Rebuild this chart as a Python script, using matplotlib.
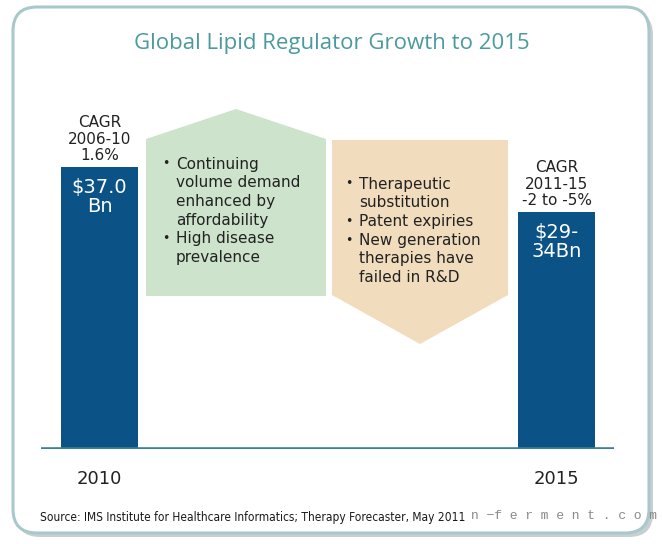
import matplotlib
matplotlib.use("Agg")
import matplotlib.pyplot as plt
from matplotlib.patches import Polygon, FancyBboxPatch

# ---------------- data ----------------
years = ["2010", "2015"]
market_bn = [37.0, 31.1]          # bar heights (2015 shown as range $29-34Bn)
bar_labels = ["$37.0\nBn", "$29-\n34Bn"]
cagr_labels = ["CAGR\n2006-10\n1.6%", "CAGR\n2011-15\n-2 to -5%"]
drivers = ["Continuing\nvolume demand\nenhanced by\naffordability", "High disease\nprevalence"]
limiters = ["Therapeutic\nsubstitution", "Patent expiries", "New generation\ntherapies have\nfailed in R&D"]
title = "Global Lipid Regulator Growth to 2015"
source = "Source: IMS Institute for Healthcare Informatics; Therapy Forecaster, May 2011"
watermark = "n \u2212f e r m e n t . c o m"

W, H = 663, 544
BLUE = "#0b5287"
GREEN = "#cde3cc"
TAN = "#f1dcbd"
TEAL = "#4a9a9e"
BORDER = "#a9c8cc"
TXT = "#222222"

fig = plt.figure(figsize=(W / 100, H / 100), dpi=100)
fig.patch.set_facecolor("white")

# decoration axes in pixel coordinates
deco = fig.add_axes([0, 0, 1, 1])
deco.set_xlim(0, W)
deco.set_ylim(H, 0)
deco.axis("off")

# shadow + frame
deco.add_patch(FancyBboxPatch((16, 11), 637, 526, boxstyle="round,pad=0,rounding_size=24",
                              facecolor="#c9cfd0", edgecolor="none", zorder=0))
deco.add_patch(FancyBboxPatch((13, 7), 636, 526, boxstyle="round,pad=0,rounding_size=24",
                              facecolor="white", edgecolor=BORDER, linewidth=2.2, zorder=1))

# arrows
deco.add_patch(Polygon([(146, 296), (146, 139), (236, 109), (326, 139), (326, 296)],
                       closed=True, facecolor=GREEN, edgecolor="none", zorder=2))
deco.add_patch(Polygon([(332, 140), (508, 140), (508, 295), (420, 344), (332, 295)],
                       closed=True, facecolor=TAN, edgecolor="none", zorder=2))

deco.text(332, 43, title, ha="center", va="center", fontsize=16, color=TEAL,
          family="Open Sans", zorder=5)

def bullets(x_b, x_t, y0, items, step=18.7):
    y = y0
    for it in items:
        deco.text(x_b, y, "\u2022", ha="left", va="center", fontsize=9, color=TXT,
                  family="DejaVu Sans", zorder=5)
        for ln in it.split("\n"):
            deco.text(x_t, y, ln, ha="left", va="center", fontsize=11, color=TXT,
                      family="DejaVu Sans", zorder=5)
            y += step

bullets(162, 176, 164, drivers)
bullets(345, 359, 184, limiters)

deco.text(40, 517, source, ha="left", va="center", fontsize=8.6, color="#1a1a1a",
          family="DejaVu Sans", fontstretch="condensed", zorder=5)
deco.text(471, 516, watermark, ha="left", va="center", fontsize=9.4, color="#8a8a8a",
          family="Liberation Mono", zorder=6)

# bar axes (data units)
x_left, x_right, base_y, top_y = 41, 614, 449, 106
ax = fig.add_axes([x_left / W, (H - base_y) / H, (x_right - x_left) / W, (base_y - top_y) / H])
ax.patch.set_alpha(0)
for s in ax.spines.values():
    s.set_visible(False)
ax.set_xticks([])
ax.set_yticks([])
span = 457.0
ax.set_xlim(-58.5 / span, 1 + (x_right - 556.5) / span)
ax.set_ylim(0, 37.0 * (base_y - top_y) / 282.0)
xs = [0, 1]
ax.bar(xs, market_bn, width=77 / span, color=BLUE, zorder=3)
ax.axhline(0, color="#3b8291", linewidth=2.6, zorder=4)

for x, v, bl, cl, yr in zip(xs, market_bn, bar_labels, cagr_labels, years):
    ax.annotate(bl, (x, v), xytext=(0, -8), textcoords="offset points", ha="center", va="top",
                fontsize=14, color="white", family="DejaVu Sans", linespacing=1.0)
    ax.annotate(cl, (x, v), xytext=(0, 3), textcoords="offset points", ha="center", va="bottom",
                fontsize=11, color=TXT, family="DejaVu Sans", linespacing=1.1)
    ax.annotate(yr, (x, 0), xytext=(0, -21.5), textcoords="offset points", ha="center", va="center",
                fontsize=13, color=TXT, family="DejaVu Sans")

fig.savefig("out.png", dpi=100)
